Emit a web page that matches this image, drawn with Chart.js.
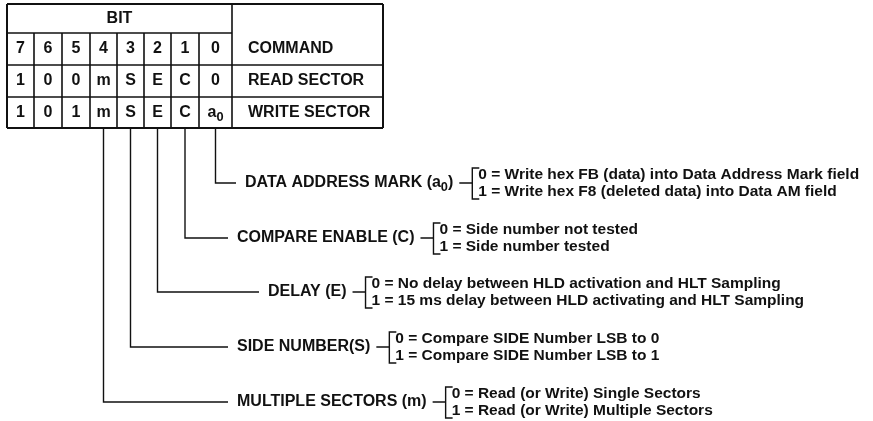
<!DOCTYPE html>
<html>
<head>
<meta charset="utf-8">
<script src="https://cdn.jsdelivr.net/npm/chart.js@4"></script>
<style>
html, body { margin: 0; padding: 0; background: #fff; }
</style>
</head>
<body>
<canvas id="myChart" width="873" height="421"></canvas>
<script>
// table contents
const bitNumbers = ['7', '6', '5', '4', '3', '2', '1', '0']
const commandNames = ['READ SECTOR', 'WRITE SECTOR']
const readSectorBits = ['1', '0', '0', 'm', 'S', 'E', 'C', '0']
const writeSectorBits = ['1', '0', '1', 'm', 'S', 'E', 'C', 'a₀']

// bit fields explained below the table
const fieldNames = ['DATA ADDRESS MARK (a₀)', 'COMPARE ENABLE (C)', 'DELAY (E)', 'SIDE NUMBER(S)', 'MULTIPLE SECTORS (m)']
const fieldBits = [0, 1, 2, 3, 4]
const fieldOption0 = [
	'0 = Write hex FB (data) into Data Address Mark field',
	'0 = Side number not tested',
	'0 = No delay between HLD activation and HLT Sampling',
	'0 = Compare SIDE Number LSB to 0',
	'0 = Read (or Write) Single Sectors'
]
const fieldOption1 = [
	'1 = Write hex F8 (deleted data) into Data AM field',
	'1 = Side number tested',
	'1 = 15 ms delay between HLD activating and HLT Sampling',
	'1 = Compare SIDE Number LSB to 1',
	'1 = Read (or Write) Multiple Sectors'
]

// layout (page pixels)
const colEdges = [7, 34, 62, 90, 117, 144, 171, 199, 232, 383]
const rowEdges = [4, 33, 65, 97, 128]
const labelY = [183, 238, 292, 347, 402]
const labelX = [245, 237, 268, 237, 237]
const FAMILY = '"Liberation Sans", Arial, sans-serif'
const CAPS_SIZE = 16
const OPT_SIZE = 15.5

function colCenter(i) {
	return (colEdges[i] + colEdges[i + 1]) / 2
}
function rowCenter(i) {
	return (rowEdges[i] + rowEdges[i + 1]) / 2
}

// table rules as line datasets
let lineSets = []
function addLine(pts, w) {
	lineSets.push({
		data: pts,
		showLine: true,
		borderColor: '#111',
		borderWidth: w,
		pointRadius: 0,
		tension: 0
	})
}
let tblLeft = colEdges[0], tblRight = colEdges[colEdges.length - 1]
let tblTop = rowEdges[0], tblBottom = rowEdges[rowEdges.length - 1]
// horizontal rules
addLine([{ x: tblLeft, y: tblTop }, { x: tblRight, y: tblTop }], 2)
addLine([{ x: tblLeft, y: rowEdges[1] }, { x: colEdges[8], y: rowEdges[1] }], 1.6)
for (let r = 2; r < rowEdges.length; r++) {
	addLine([{ x: tblLeft, y: rowEdges[r] }, { x: tblRight, y: rowEdges[r] }], r == rowEdges.length - 1 ? 2 : 1.6)
}
// vertical rules
addLine([{ x: tblLeft, y: tblTop }, { x: tblLeft, y: tblBottom }], 2)
for (let c = 1; c < 8; c++) {
	addLine([{ x: colEdges[c], y: rowEdges[1] }, { x: colEdges[c], y: tblBottom }], 1.6)
}
addLine([{ x: colEdges[8], y: tblTop }, { x: colEdges[8], y: tblBottom }], 1.6)
addLine([{ x: tblRight, y: tblTop }, { x: tblRight, y: tblBottom }], 2)

// leaders from each bit down to its description
for (let i = 0; i < fieldNames.length; i++) {
	let cx = colCenter(7 - fieldBits[i])
	addLine([
		{ x: cx, y: tblBottom },
		{ x: cx, y: labelY[i] },
		{ x: labelX[i] - 9, y: labelY[i] }
	], 1.4)
}

// text with a subscript zero drawn lower and smaller
function richWidth(g, s, size) {
	let parts = s.split('₀')
	let w = 0
	g.font = 'bold ' + size + 'px ' + FAMILY
	parts.forEach(p => w += g.measureText(p).width)
	g.font = 'bold ' + (size * 0.8) + 'px ' + FAMILY
	w += (parts.length - 1) * g.measureText('0').width
	g.font = 'bold ' + size + 'px ' + FAMILY
	return w
}
function drawRich(g, s, x, y, size, align) {
	let w = richWidth(g, s, size)
	if (align == 'center') x -= w / 2
	g.textAlign = 'left'
	let parts = s.split('₀')
	for (let k = 0; k < parts.length; k++) {
		g.font = 'bold ' + size + 'px ' + FAMILY
		g.fillText(parts[k], x, y)
		x += g.measureText(parts[k]).width
		if (k < parts.length - 1) {
			g.font = 'bold ' + (size * 0.8) + 'px ' + FAMILY
			g.fillText('0', x, y + size * 0.28)
			x += g.measureText('0').width
		}
	}
	g.font = 'bold ' + size + 'px ' + FAMILY
	return w
}

const textPlugin = {
	id: 'diagramText',
	afterDatasetsDraw(chart) {
		const g = chart.ctx
		const xs = chart.scales.x
		const ys = chart.scales.y
		g.save()
		g.fillStyle = '#111'
		g.strokeStyle = '#111'
		g.textBaseline = 'middle'

		// header
		drawRich(g, 'BIT', xs.getPixelForValue((colEdges[0] + colEdges[8]) / 2), ys.getPixelForValue(rowCenter(0)), CAPS_SIZE, 'center')
		for (let c = 0; c < 8; c++) {
			let px = xs.getPixelForValue(colCenter(c))
			drawRich(g, bitNumbers[c], px, ys.getPixelForValue(rowCenter(1)), CAPS_SIZE, 'center')
			drawRich(g, readSectorBits[c], px, ys.getPixelForValue(rowCenter(2)), CAPS_SIZE, 'center')
			drawRich(g, writeSectorBits[c], px, ys.getPixelForValue(rowCenter(3)), CAPS_SIZE, 'center')
		}
		let cmdX = xs.getPixelForValue(colEdges[8] + 16)
		drawRich(g, 'COMMAND', cmdX, ys.getPixelForValue(rowCenter(1)), CAPS_SIZE, 'left')
		drawRich(g, commandNames[0], cmdX, ys.getPixelForValue(rowCenter(2)), CAPS_SIZE, 'left')
		drawRich(g, commandNames[1], cmdX, ys.getPixelForValue(rowCenter(3)), CAPS_SIZE, 'left')

		// descriptions with brackets
		g.lineWidth = 1.4
		for (let i = 0; i < fieldNames.length; i++) {
			let lx = xs.getPixelForValue(labelX[i])
			let ly = ys.getPixelForValue(labelY[i])
			let w = drawRich(g, fieldNames[i], lx, ly, CAPS_SIZE, 'left')
			let bx = lx + w + 19
			g.beginPath()
			g.moveTo(lx + w + 6, ly)
			g.lineTo(bx, ly)
			g.moveTo(bx + 7, ly - 15)
			g.lineTo(bx, ly - 15)
			g.lineTo(bx, ly + 16)
			g.lineTo(bx + 7, ly + 16)
			g.stroke()
			drawRich(g, fieldOption0[i], bx + 6, ly - 8, OPT_SIZE, 'left')
			drawRich(g, fieldOption1[i], bx + 6, ly + 9, OPT_SIZE, 'left')
		}
		g.restore()
	}
}

const myChart = new Chart(document.getElementById('myChart').getContext('2d'), {
	type: 'scatter',
	data: { datasets: lineSets },
	options: {
		responsive: false,
		animation: false,
		devicePixelRatio: 1,
		layout: { padding: 0 },
		plugins: {
			legend: { display: false },
			tooltip: { enabled: false }
		},
		scales: {
			x: { type: 'linear', min: 0, max: 873, display: false },
			y: { type: 'linear', min: 0, max: 421, reverse: true, display: false }
		}
	},
	plugins: [textPlugin]
})
</script>
</body>
</html>
